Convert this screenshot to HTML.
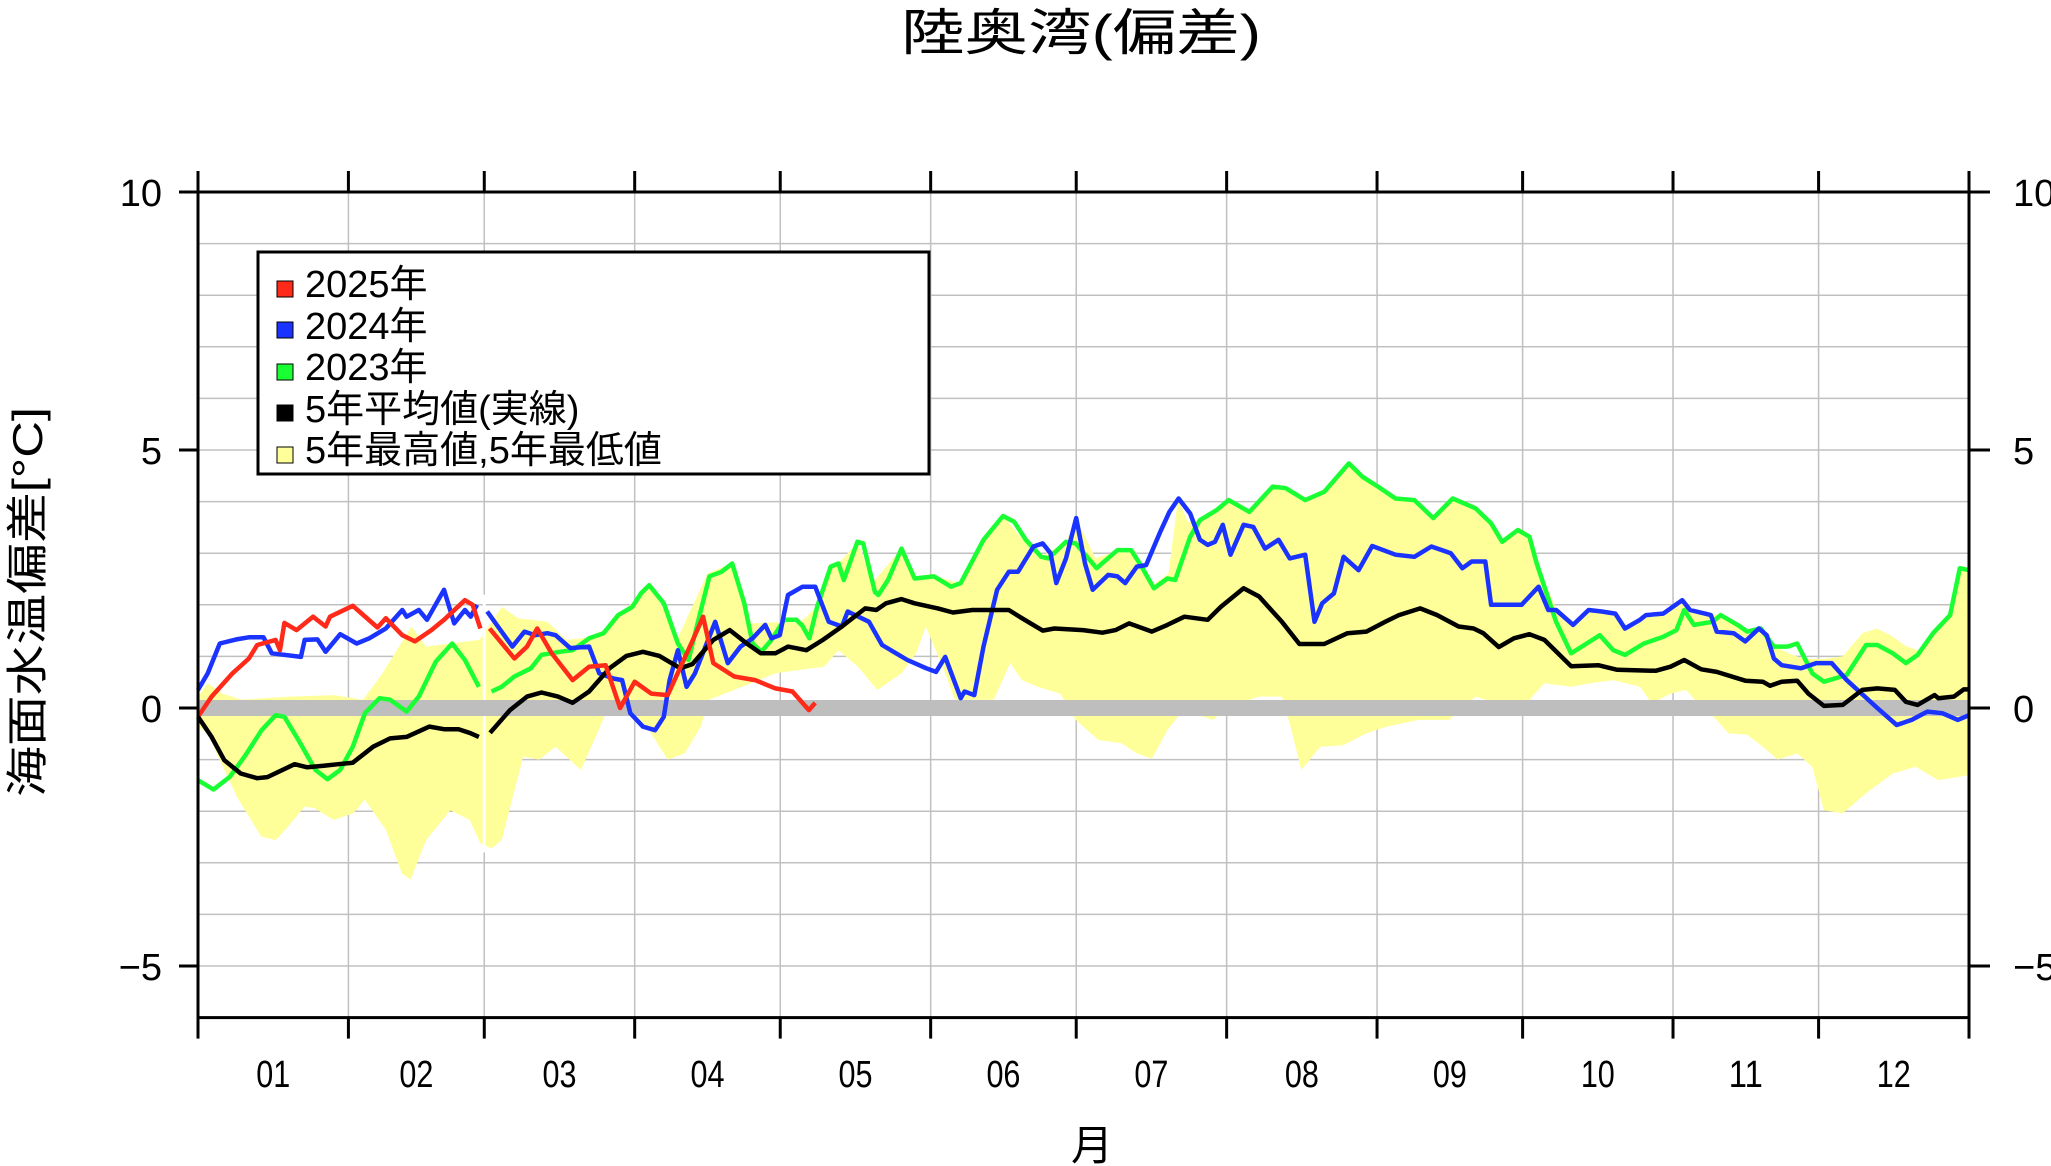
<!DOCTYPE html>
<html><head><meta charset="utf-8"><style>
html,body{margin:0;padding:0;background:#fff;}
svg{display:block;font-family:"Liberation Sans","Noto Sans CJK JP",sans-serif;}
</style></head><body>
<svg id="chart" width="2051" height="1166" viewBox="0 0 2051 1166" xmlns="http://www.w3.org/2000/svg">
<rect x="0" y="0" width="2051" height="1166" fill="#fff"/>
<text x="1081" y="50" font-size="50" text-anchor="middle" textLength="360" lengthAdjust="spacingAndGlyphs">陸奥湾(偏差)</text>
<text transform="translate(42,602) rotate(-90)" font-size="42" text-anchor="middle" textLength="390" lengthAdjust="spacingAndGlyphs">海面水温偏差[°C]</text>
<text x="1092" y="1160" font-size="42" text-anchor="middle">月</text>
<g id="grid"></g>
<g id="band"></g>
<rect x="198" y="700" width="1771" height="16" fill="#bebebe"/>
<g id="series"></g>
<g id="axes"></g>
<g>
<rect x="258" y="252" width="671" height="222" fill="#fff" stroke="#000" stroke-width="3"/>
<rect x="277" y="281" width="16" height="16" fill="#ff2a1a" stroke="#000" stroke-width="1"/>
<text x="305" y="297" font-size="38">2025年</text>
<rect x="277" y="322" width="16" height="16" fill="#1a33ff" stroke="#000" stroke-width="1"/>
<text x="305" y="339" font-size="38">2024年</text>
<rect x="277" y="364" width="16" height="16" fill="#1aff33" stroke="#000" stroke-width="1"/>
<text x="305" y="380" font-size="38">2023年</text>
<rect x="277" y="405" width="16" height="16" fill="#000" stroke="#000" stroke-width="1"/>
<text x="305" y="422" font-size="38">5年平均値(実線)</text>
<rect x="277" y="447" width="16" height="16" fill="#ffff99" stroke="#000" stroke-width="1"/>
<text x="305" y="463" font-size="38">5年最高値,5年最低値</text>
</g>
</svg>
<script>
const monthLabels=["01","02","03","04","05","06","07","08","09","10","11","12"];
const monthStarts=[0,31,59,90,120,151,181,212,243,273,304,334,365];
const yTicks=[10,5,0,-5];
const redDays=[0.2,2.8,7.1,10.5,12.2,16,16.9,17.8,20.3,23.7,26.3,27.2,31.9,37,38.7,42.1,44.7,48.1,50.7,55,56.6,58.2,60.1,65.2,67.8,69.9,72.9,77.2,80.6,84,87,90,93.4,96.8,102,104.1,106.2,110.5,114.8,119,122.5,125.9,127.2];
const redVals=[-0.14,0.22,0.67,0.96,1.22,1.32,1.12,1.65,1.51,1.77,1.58,1.77,1.98,1.56,1.74,1.41,1.29,1.51,1.71,2.09,2.0,1.54,1.54,0.96,1.19,1.54,1.06,0.54,0.8,0.83,0,0.51,0.28,0.25,1.32,1.77,0.87,0.61,0.54,0.38,0.32,-0.04,0.1];
const blueDays=[0,2,4.5,7.9,10.5,13.5,15.2,21.2,22,24.6,26.3,29.3,32.7,35.3,38.7,42.1,43,45.5,47.2,50.7,52.8,55,56.2,57.5,59.6,61.8,64.8,67.3,69.5,72,73.7,76.7,80.6,82.7,85.7,87.4,89.1,91.7,94.2,96,97.2,98.9,100.7,102.4,106.6,109.2,111.8,114.3,116.9,118.2,119.9,120.8,121.6,124.6,127.2,130,132.7,133.9,138.3,141,146.2,150.1,152.1,154,157.2,158,160,161.9,164.7,167.1,169,172.2,174.1,175.7,176.9,178.9,181,182.8,184.4,187.6,189.5,191.1,193.5,195.4,198.2,200.2,202.1,204.5,206.5,208.1,209.6,211.2,212.8,215.5,217.5,219.9,222.7,225,228.2,230.1,231.7,234.1,236.1,239.2,242,246.8,250.7,254.2,258.2,260.6,262.5,265.3,266.5,272.8,276.3,278.3,279.9,283.4,286.6,289.3,292.1,294.1,297.2,298.4,302,305.9,307.5,311.8,313,316.5,318.9,321.7,323.3,324.8,326.4,330.4,333.5,336.7,339.8,346.1,350.1,353.2,356.4,359.5,362.7,365];
const blueVals=[0.35,0.67,1.25,1.33,1.37,1.37,1.06,0.99,1.32,1.33,1.09,1.43,1.25,1.35,1.54,1.9,1.77,1.9,1.71,2.29,1.64,1.9,1.77,2.0,1.87,1.58,1.19,1.48,1.41,1.45,1.41,1.16,1.19,0.67,0.57,0.54,-0.1,-0.36,-0.43,-0.17,0.54,1.12,0.41,0.67,1.67,0.87,1.19,1.35,1.61,1.35,1.41,1.83,2.19,2.35,2.35,1.67,1.58,1.87,1.67,1.22,0.93,0.77,0.7,0.99,0.19,0.32,0.25,1.19,2.29,2.64,2.64,3.13,3.19,3.0,2.42,2.9,3.68,2.8,2.29,2.58,2.55,2.42,2.74,2.77,3.39,3.8,4.06,3.77,3.26,3.16,3.22,3.55,2.97,3.55,3.51,3.09,3.26,2.9,2.97,1.67,2.03,2.22,2.93,2.67,3.14,2.97,2.93,3.13,3.0,2.71,2.84,2.84,2.0,2.0,2.35,1.9,1.9,1.61,1.9,1.87,1.83,1.54,1.71,1.8,1.83,2.09,1.9,1.8,1.48,1.45,1.29,1.54,1.41,0.96,0.83,0.77,0.87,0.87,0.54,0,-0.33,-0.23,-0.07,-0.1,-0.23,-0.14];
const greenDays=[0,3.2,6.6,9.6,13.1,16,17.8,20.7,24.2,26.7,29.3,31.9,34.4,37.4,39.6,43,45.5,49,52.4,55,57.9,60.5,62.6,65.2,68.6,70.8,74.6,77.2,80.6,83.6,86.6,89.5,91.3,93,96,98.9,101.1,102.8,105.4,107.9,110.1,112.6,114.3,116.1,118.2,120.8,123.3,124.5,126,127.6,130.4,132,133.1,135.9,137.1,139.5,140.2,142.2,145,147.7,151.7,155.2,157.2,161.9,165.9,168.2,170.6,173.8,175.3,178.9,180.9,185.2,189.5,192.3,194.3,197,199.8,201.4,204.5,206.5,210,212.4,216.7,221.5,224.2,228.2,232.1,237.2,240,243.2,246.8,250.7,254.6,258.6,263.3,266.5,268.8,272,274.4,275.9,277.5,279.9,283,286.2,288.9,291.7,294.1,298,302,304.7,306.3,308.3,312.2,313.8,317.3,319.3,322.1,324.8,327.6,329.6,332.7,335.1,339.8,343.8,346.1,349.3,352,354.4,357.6,361.1,363.1,365];
const greenVals=[-1.4,-1.58,-1.33,-0.94,-0.43,-0.14,-0.17,-0.62,-1.2,-1.38,-1.2,-0.75,-0.1,0.19,0.16,-0.07,0.22,0.9,1.25,0.93,0.41,0.32,0.41,0.61,0.77,1.03,1.09,1.12,1.35,1.45,1.8,1.96,2.22,2.38,2.03,1.25,0.93,1.58,2.55,2.64,2.8,2.03,1.25,1.09,1.32,1.71,1.71,1.6,1.35,1.96,2.74,2.8,2.48,3.22,3.19,2.25,2.19,2.48,3.09,2.51,2.55,2.35,2.42,3.26,3.72,3.61,3.26,2.93,2.9,3.22,3.19,2.71,3.06,3.06,2.77,2.32,2.51,2.48,3.32,3.64,3.84,4.03,3.8,4.29,4.26,4.03,4.19,4.74,4.48,4.29,4.06,4.03,3.68,4.06,3.87,3.58,3.22,3.45,3.32,2.8,2.35,1.67,1.06,1.25,1.41,1.12,1.03,1.25,1.38,1.51,1.9,1.61,1.67,1.8,1.61,1.48,1.54,1.19,1.19,1.25,0.67,0.51,0.64,1.22,1.22,1.06,0.87,1.03,1.45,1.8,2.71,2.67];
const meanDays=[0,2.8,5.4,8.8,12.2,14.3,19.9,22.5,25.9,28.9,31.9,36.1,39.6,43,47.7,50.7,53.7,56.2,57.9,60.2,64.3,67.8,70.8,74.2,77.2,80.6,84.8,88.3,91.7,95.1,99.4,101.9,106.2,109.6,113.1,116,119,121.6,125.4,128.8,132.7,137.5,139.8,141.8,145,147.7,152.5,155.6,159.6,167.1,169.8,174.1,176.5,182.4,186.4,189.1,191.9,196.6,199.8,203.3,208.1,210.8,215.5,218.7,223.4,227,232.1,236.9,240.8,244.7,247.5,251.9,255.4,259.8,262.9,264.9,268.1,271.2,274.4,277.5,283,288.6,292.5,300.4,303.5,306.3,309.8,313,318.9,322.5,324,326.4,329.6,331.9,335.1,339,343,346.1,349.7,352,354.4,357.9,358.7,361.9,363.9,365];
const meanVals=[-0.17,-0.56,-1.01,-1.27,-1.36,-1.34,-1.09,-1.15,-1.12,-1.09,-1.06,-0.75,-0.59,-0.56,-0.36,-0.41,-0.41,-0.49,-0.56,-0.48,-0.04,0.22,0.3,0.22,0.1,0.32,0.77,1.01,1.09,1.01,0.77,0.85,1.32,1.51,1.25,1.06,1.06,1.19,1.12,1.32,1.58,1.93,1.9,2.03,2.11,2.03,1.93,1.85,1.9,1.9,1.74,1.5,1.54,1.51,1.46,1.51,1.64,1.48,1.61,1.77,1.71,1.96,2.32,2.16,1.67,1.24,1.24,1.45,1.48,1.67,1.8,1.93,1.8,1.58,1.54,1.45,1.18,1.35,1.43,1.32,0.81,0.83,0.74,0.72,0.8,0.93,0.75,0.7,0.53,0.51,0.43,0.51,0.53,0.28,0.04,0.06,0.35,0.38,0.35,0.12,0.06,0.25,0.19,0.22,0.36,0.36];
const upperDays=[0,2,5,9,19,28,34,38,44,47,52,58,62.6,66,72,76,82,90,93,99,105,110,114,121,124,128,130,132,136,139,145,148,152,157,162,166,170,174,179,181,185,190,193,197,200,202,204,207,210,212,217,221.5,224,228,232,237,240,243,247,251,255,259,263,267,269,272,274,276,278,280,283,287,292,294,298,302,306,308,312,314,317,320,322,325,328,331,335,339,343,346,349,352,355,358,361,363,365];
const upperVals=[0.22,0.48,0.28,0.16,0.22,0.25,0.16,0.67,1.58,1.19,1.25,1.32,1.96,1.74,1.67,1.32,1.38,2.09,2.42,1.38,2.61,2.8,1.64,1.67,1.65,2.0,2.74,2.8,3.22,2.42,3.09,2.51,2.55,2.42,3.26,3.72,3.26,2.95,3.22,3.68,2.9,3.06,3.06,2.4,2.6,4.06,3.6,3.64,3.84,4.03,3.8,4.29,4.26,4.03,4.19,4.74,4.48,4.29,4.06,4.03,3.68,4.06,3.87,3.58,3.22,3.45,3.32,2.8,2.35,1.9,1.61,1.9,1.83,1.54,1.8,1.83,2.09,1.9,1.8,1.8,1.61,1.5,1.54,1.19,1.05,0.95,0.95,1.0,1.45,1.54,1.4,1.2,1.1,1.45,1.8,2.71,2.67];
const lowerDays=[0,2,8,13,16,18,22,24,28,32,34.4,38.7,42,43.8,47,52,56,58.2,60.5,62.6,67,70.3,73.7,78.9,82.3,84,88,92.5,96.8,100.3,103.6,105.3,110.5,119,124,129,132,136,140,145,148,150,151.7,154,156,164,167.4,169.8,173,177.7,180.9,185.6,190.3,193.5,196.6,199.8,203,209.2,212.4,218.7,223.4,225,227.4,231.3,236,240.8,245,251.5,257.8,263.3,265.7,268,274.4,277.5,283,287,291.7,297.2,299.6,303.5,306.7,309,313,315.4,319.3,322.5,325.6,329.6,332.7,335.1,339,343.8,349.3,354,358.7,365];
const lowerVals=[-0.36,-0.5,-1.72,-2.49,-2.56,-2.36,-1.91,-1.94,-2.17,-2.04,-1.78,-2.36,-3.2,-3.33,-2.56,-1.98,-2.17,-2.62,-2.72,-2.56,-0.94,-1.0,-0.75,-1.2,-0.49,-0.1,0.1,-0.36,-1.0,-0.88,-0.36,0.16,0.35,0.67,0.74,0.8,1.12,0.8,0.35,0.67,1.06,1.58,1.19,0.67,0.16,0.16,0.87,0.54,0.41,0.28,-0.23,-0.62,-0.68,-0.88,-0.98,-0.43,-0.04,-0.23,0.03,0.22,0.22,-0.3,-1.2,-0.75,-0.72,-0.49,-0.36,-0.23,-0.23,0.22,0.15,-0.15,0.16,0.48,0.41,0.48,0.54,0.41,0.09,0.28,0.35,0.1,-0.23,-0.49,-0.52,-0.75,-1.0,-0.88,-1.14,-1.98,-2.04,-1.65,-1.27,-1.14,-1.4,-1.3];

const NS="http://www.w3.org/2000/svg";
const L=198,R=1969,T=192,B=1017.6;
function xs(d){return L+(R-L)*d/365;}
function ys(v){return 708-51.6*v;}
function mk(tag,attrs,parent){const e=document.createElementNS(NS,tag);for(const k in attrs)e.setAttribute(k,attrs[k]);parent.appendChild(e);return e;}
const grid=document.getElementById('grid'),band=document.getElementById('band'),ser=document.getElementById('series'),axes=document.getElementById('axes');
for(let v=-6;v<=10;v++){
  const g=mk('line',{x1:L,x2:R,y1:ys(v),y2:ys(v),stroke:'#c0c0c0','stroke-width':1.5},grid);
  
  
}
monthStarts.forEach(function(d){
  const g=mk('line',{x1:xs(d),x2:xs(d),y1:T,y2:B,stroke:'#c0c0c0','stroke-width':1.5},grid);
  
  
});
// band
let pts=[];
for(let i=0;i<upperDays.length;i++)pts.push(xs(upperDays[i]).toFixed(1)+','+ys(upperVals[i]).toFixed(1));
for(let i=lowerDays.length-1;i>=0;i--)pts.push(xs(lowerDays[i]).toFixed(1)+','+ys(lowerVals[i]).toFixed(1));
const bp=mk('polygon',{points:pts.join(' '),fill:'#ffff99',stroke:'none'},band);


const gapLine=mk('rect',{x:xs(59)-1.5,y:ys(2.2),width:3,height:ys(-2.8)-ys(2.2),fill:'#fff'},band);


function drawLine(days,vals,color,name){
  let d='',prev=null;
  for(let i=0;i<days.length;i++){
    const brk=prev!==null&&prev<59&&days[i]>=59;
    d+=(i===0||brk?'M':'L')+xs(days[i]).toFixed(1)+','+ys(vals[i]).toFixed(1)+' ';
    prev=days[i];
  }
  const p=mk('path',{d:d,fill:'none',stroke:color,'stroke-width':4.5,'stroke-linejoin':'round'},ser);
  
  
}
drawLine(greenDays,greenVals,'#1aff33','series-2023');
drawLine(blueDays,blueVals,'#1a33ff','series-2024');
drawLine(meanDays,meanVals,'#000000','series-5yr-mean');
drawLine(redDays,redVals,'#ff2a1a','series-2025');
// frame
const fr=mk('rect',{x:L,y:T,width:R-L,height:B-T,fill:'none',stroke:'#000','stroke-width':3},axes);


yTicks.forEach(function(v){
  const t1=mk('line',{x1:L-19,x2:L,y1:ys(v),y2:ys(v),stroke:'#000','stroke-width':3},axes);
  
  
  const t2=mk('line',{x1:R,x2:R+21,y1:ys(v),y2:ys(v),stroke:'#000','stroke-width':3},axes);
  
  
  const lab=(v<0?'\u2212':'')+Math.abs(v);
  const a=mk('text',{x:L-36,y:ys(v)+14,'font-size':38,'text-anchor':'end'},axes);
  a.textContent=lab;
  
  
  const b=mk('text',{x:R+44,y:ys(v)+14,'font-size':38,'text-anchor':'start'},axes);
  b.textContent=lab;
  
  
});
monthStarts.forEach(function(d){
  const a=mk('line',{x1:xs(d),x2:xs(d),y1:T-21,y2:T,stroke:'#000','stroke-width':3},axes);
  
  
  const b=mk('line',{x1:xs(d),x2:xs(d),y1:B,y2:B+21,stroke:'#000','stroke-width':3},axes);
  
  
});
monthLabels.forEach(function(m,i){
  const c=(xs(monthStarts[i])+xs(monthStarts[i+1]))/2;
  const t=mk('text',{x:c,y:1087,'font-size':38,'text-anchor':'middle',textLength:34,lengthAdjust:'spacingAndGlyphs'},axes);
  t.textContent=m;
  
  
});
</script>
</body></html>
